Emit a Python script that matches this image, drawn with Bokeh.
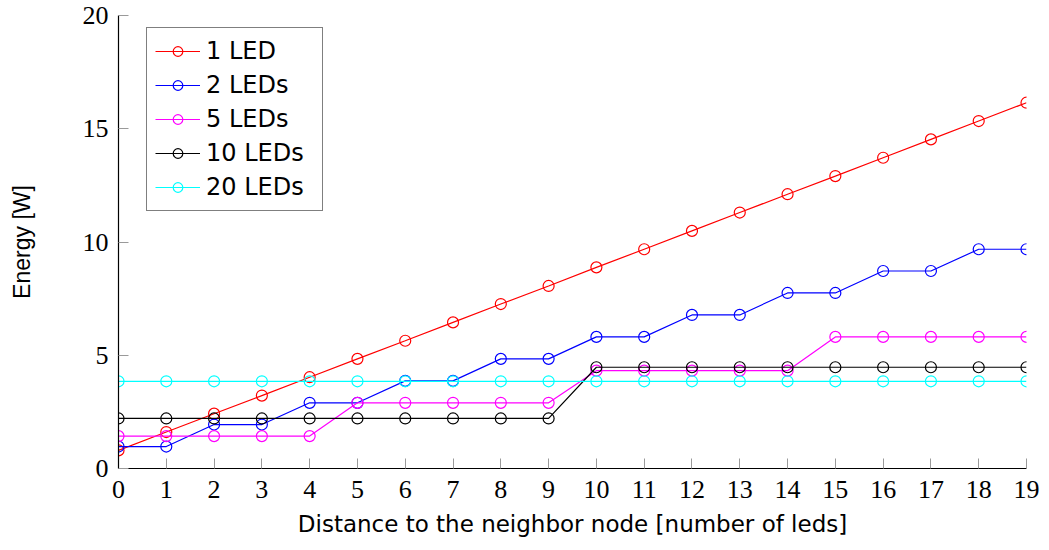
from bokeh.plotting import figure
from bokeh.models import Range1d, FixedTicker, Legend, LegendItem
from bokeh.embed import file_html
from bokeh.resources import INLINE

# Distance to the neighbor node, in number of LEDs
distance = [0, 1, 2, 3, 4, 5, 6, 7, 8, 9, 10, 11, 12, 13, 14, 15, 16, 17, 18, 19]

# Energy [W] per configuration
energy_1_led = [0.80, 1.61, 2.42, 3.22, 4.03, 4.84, 5.64, 6.45, 7.26, 8.06,
                8.88, 9.68, 10.49, 11.30, 12.11, 12.91, 13.72, 14.53, 15.34, 16.15]
energy_2_leds = [0.97, 0.97, 1.94, 1.94, 2.90, 2.90, 3.87, 3.87, 4.84, 4.84,
                 5.81, 5.81, 6.78, 6.78, 7.75, 7.75, 8.72, 8.72, 9.68, 9.68]
energy_5_leds = [1.43, 1.43, 1.43, 1.43, 1.43, 2.90, 2.90, 2.90, 2.90, 2.90,
                 4.32, 4.32, 4.32, 4.32, 4.32, 5.81, 5.81, 5.81, 5.81, 5.81]
energy_10_leds = [2.21, 2.21, 2.21, 2.21, 2.21, 2.21, 2.21, 2.21, 2.21, 2.21,
                  4.47, 4.47, 4.47, 4.47, 4.47, 4.47, 4.47, 4.47, 4.47, 4.47]
energy_20_leds = [3.85, 3.85, 3.85, 3.85, 3.85, 3.85, 3.85, 3.85, 3.85, 3.85,
                  3.85, 3.85, 3.85, 3.85, 3.85, 3.85, 3.85, 3.85, 3.85, 3.85]

series_names = ["1 LED", "2 LEDs", "5 LEDs", "10 LEDs", "20 LEDs"]
series_values = [energy_1_led, energy_2_leds, energy_5_leds, energy_10_leds, energy_20_leds]
series_colors = ["#ff0000", "#0000ff", "#ff00ff", "#000000", "#00ffff"]

x_ticks = distance
y_ticks = [0, 5, 10, 15, 20]

p = figure(width=1049, height=550, output_backend="svg", toolbar_location=None,
           x_range=Range1d(0, 19), y_range=Range1d(0, 20),
           min_border_left=118, min_border_right=23,
           min_border_top=15, min_border_bottom=82)

p.outline_line_color = None
p.xgrid.grid_line_color = None
p.ygrid.grid_line_color = None
p.background_fill_color = "white"
p.border_fill_color = "white"

items = []
for name, vals, col in zip(series_names, series_values, series_colors):
    ln = p.line(distance, vals, line_color=col, line_width=1.2)
    sc = p.scatter(distance, vals, marker="circle", size=11, line_color=col,
                   line_width=1.2, fill_color=None)
    items.append(LegendItem(label=name, renderers=[ln, sc]))

# axes
for ax in (p.xaxis[0], p.yaxis[0]):
    ax.axis_line_color = "black"
    ax.axis_line_width = 1.2
    ax.major_tick_in = 10
    ax.major_tick_out = 0
    ax.major_tick_line_color = "#9a9a9a"
    ax.major_tick_line_width = 1
    ax.minor_tick_line_color = None
    ax.major_label_text_font = "Liberation Serif"
    ax.major_label_text_font_size = "26px"
    ax.major_label_text_color = "black"
    ax.axis_label_text_font_style = "normal"
    ax.axis_label_text_color = "black"

p.xaxis[0].ticker = FixedTicker(ticks=x_ticks)
p.yaxis[0].ticker = FixedTicker(ticks=y_ticks)

p.xaxis[0].axis_label = "Distance to the neighbor node [number of leds]"
p.xaxis[0].axis_label_text_font = "DejaVu Sans"
p.xaxis[0].axis_label_text_font_size = "23px"
p.xaxis[0].major_label_standoff = 12
p.xaxis[0].axis_label_standoff = 10

p.yaxis[0].axis_label = "Energy [W]"
p.yaxis[0].axis_label_text_font = "Liberation Sans"
p.yaxis[0].axis_label_text_font_size = "23px"
p.yaxis[0].major_label_standoff = 10
p.yaxis[0].axis_label_standoff = 45

legend = Legend(items=items, location=(28, 257))
legend.label_text_font = "DejaVu Sans"
legend.label_text_font_size = "24px"
legend.label_text_color = "black"
legend.label_height = 30
legend.label_width = 108
legend.glyph_height = 24
legend.glyph_width = 45
legend.label_standoff = 6
legend.spacing = 4
legend.padding = 8
legend.margin = 0
legend.border_line_color = "black"
legend.border_line_width = 1
legend.background_fill_color = "white"
legend.background_fill_alpha = 1.0
p.add_layout(legend)

open("out.html", "w").write(file_html(p, INLINE))
